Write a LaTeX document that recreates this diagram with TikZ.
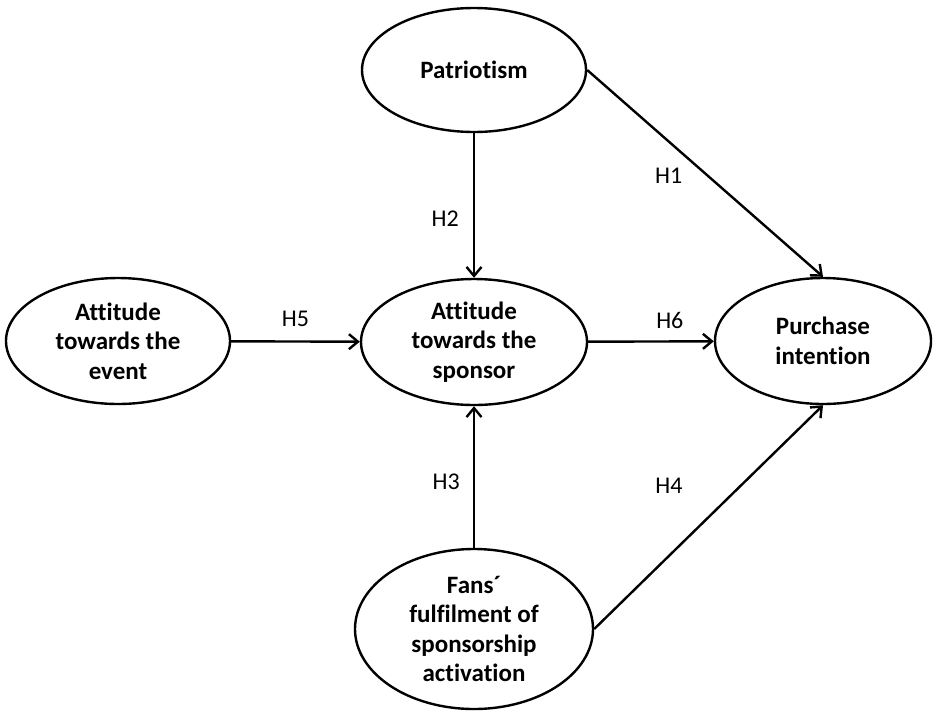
\documentclass[tikz,border=0pt]{standalone}
\usepackage{fontspec}
\setmainfont{Carlito}[Ligatures={NoCommon,NoContextual}]
\usetikzlibrary{shapes.geometric,arrows.meta}

\begin{document}
\begin{tikzpicture}[x=1pt, y=-1pt,
    construct/.style={draw, ellipse, line width=2.4pt, inner sep=0pt, align=center,
        font=\fontsize{25}{29.5}\selectfont\bfseries},
    hyp/.style={font=\fontsize{24}{27}\selectfont, inner sep=0pt},
    path/.style={->, line width=2.4pt},
    >={Straight Barb[length=9pt, width=15pt]}]
        \useasboundingbox (0,0) rectangle (933,710);

        % Define constructs
        \node[construct, minimum width=224pt, minimum height=124pt] (pat) at (474,70) {Patriotism};
        \node[construct, minimum width=224pt, minimum height=126pt] (event) at (118,341) {Attitude\\towards the\\event};
        \node[construct, minimum width=226pt, minimum height=126pt] (spon) at (474,342) {Attitude\\towards the\\sponsor};
        \node[construct, minimum width=216pt, minimum height=126pt] (pur) at (823,341) {Purchase\\intention};
        \node[construct, minimum width=238pt, minimum height=160pt] (fans) at (474,629) {Fans´\\fulfilment of\\sponsorship\\activation};

        % Draw hypotheses
        \draw[path] (pat.east) -- (pur.north) node[hyp, pos=0.51, left=24pt] {H1};
        \draw[path] (pat) -- (spon) node[hyp, pos=0.59, left=14pt] {H2};
        \draw[path] (fans) -- (spon) node[hyp, pos=0.465, left=13pt] {H3};
        \draw[path] (fans.east) -- (pur.south) node[hyp, pos=0.64, left=57pt] {H4};
        \draw[path] (event) -- (spon) node[hyp, midway, above=14pt] {H5};
        \draw[path] (spon) -- (pur) node[hyp, pos=0.65, above=12pt] {H6};
    \end{tikzpicture}
\end{document}
